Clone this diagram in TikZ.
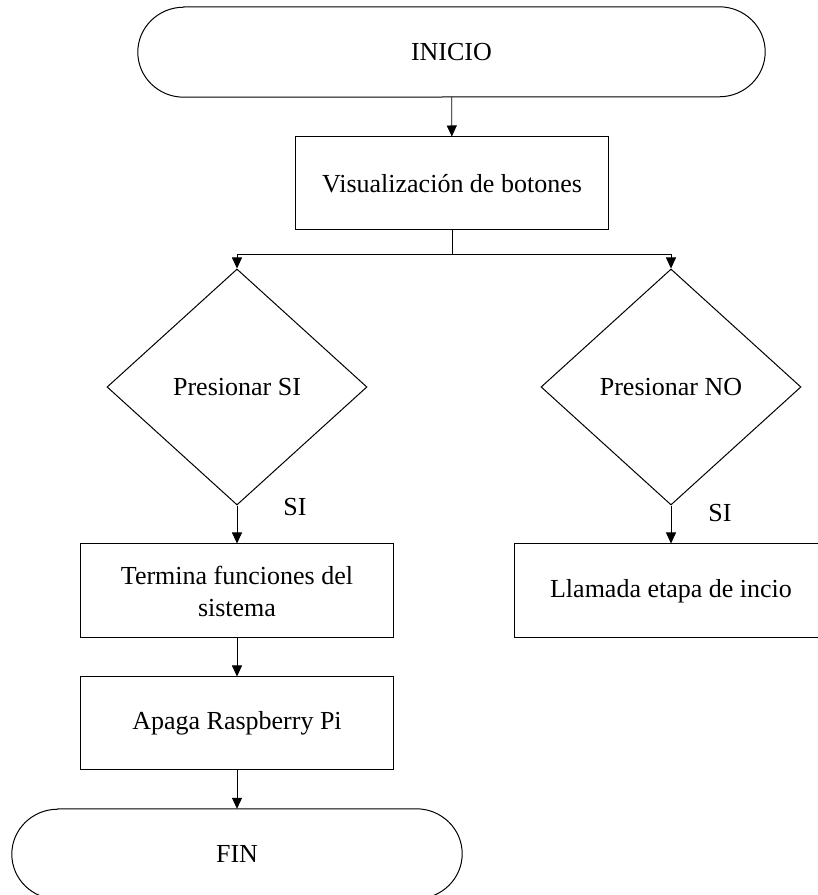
\documentclass[tikz,border=0pt]{standalone}
\usepackage{fontspec}
\setmainfont{Liberation Serif}
\usetikzlibrary{shapes.geometric,arrows.meta}
\tikzset{
  base/.style={font=\fontsize{26}{32}\selectfont, inner sep=0pt, align=center},
  termnode/.style={base, rectangle, minimum height=90pt},
  procbox/.style={base, rectangle, draw, line width=1pt, minimum width=313pt},
  decision/.style={base, diamond, draw, line width=1pt, minimum width=260pt, minimum height=236pt, aspect=1.1},
  lbl/.style={base},
  conn/.style={line width=0.8pt},
  arr/.style={conn, -{Triangle[length=11pt,width=10pt]}},
}
\newcommand\termoutline[1]{\draw[line width=1pt] ([xshift=46pt]#1.north west) -- ([xshift=-46pt]#1.north east)
  arc[start angle=90,end angle=-90,x radius=46pt,y radius=45pt] -- ([xshift=46pt]#1.south west)
  arc[start angle=270,end angle=90,x radius=46pt,y radius=45pt] -- cycle;}
\begin{document}
\begin{tikzpicture}[x=1pt,y=1pt]
\useasboundingbox (0,0) rectangle (818,895);
\clip (0,0) rectangle (818,895);
\node[termnode, minimum width=627pt] (ini) at (451.5,843) {INICIO};
\termoutline{ini}
\node[procbox, minimum height=93pt] (vis) at (452,711.5) {Visualización de botones};
\coordinate (jn) at (452,641);
\node[decision] (dl) at (237,508) {Presionar SI};
\node[decision] (dr) at (671,508) {Presionar NO};
\node[procbox, minimum height=94pt] (ter) at (237,304) {Termina funciones del\\sistema};
\node[procbox, minimum height=94pt] (lla) at (671,304) {Llamada etapa de incio};
\node[procbox, minimum height=93pt] (apa) at (237,171.5) {Apaga Raspberry Pi};
\node[termnode, minimum width=450pt] (fin) at (237,41) {FIN};
\termoutline{fin}
\node[lbl] (sil) at (295,388) {SI};
\node[lbl] (sir) at (720,382) {SI};
\draw[arr] (ini) -- (vis);
\draw[conn] (vis) -- (jn);
\draw[arr] (jn) -| (dl.north);
\draw[arr] (jn) -| (dr.north);
\draw[arr] (dl) -- (ter);
\draw[arr] (dr) -- (lla);
\draw[arr] (ter) -- (apa);
\draw[arr] (apa) -- (fin);
\end{tikzpicture}
\end{document}
